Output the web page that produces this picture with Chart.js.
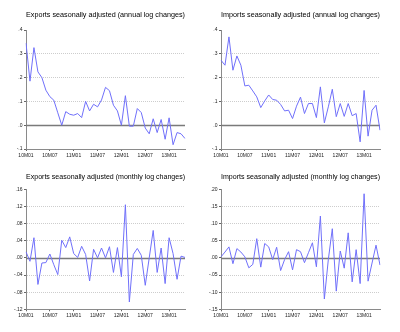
<!DOCTYPE html>
<html>
<head>
<meta charset="utf-8">
<script src="https://cdn.jsdelivr.net/npm/chart.js@4"></script>
<style>
  html, body { margin: 0; padding: 0; background: #fff; }
  #grid { position: relative; width: 400px; height: 332px; }
  .panel { position: absolute; width: 200px; height: 166px; }
  .panel canvas { display: block; }
</style>
</head>
<body>
<div id="grid">
  <div class="panel" style="left:0;top:0"><canvas id="expAnnual" width="200" height="166"></canvas></div>
  <div class="panel" style="left:200px;top:0"><canvas id="impAnnual" width="200" height="166"></canvas></div>
  <div class="panel" style="left:0;top:166px"><canvas id="expMonthly" width="200" height="166"></canvas></div>
  <div class="panel" style="left:200px;top:166px"><canvas id="impMonthly" width="200" height="166"></canvas></div>
</div>
<script>
// Monthly observations, 2010M01 .. 2013M05
const months = [];
for (let y = 10; y <= 13; y++) {
  for (let m = 1; m <= 12; m++) {
    if (y === 13 && m > 5) break;
    months.push(y + 'M' + String(m).padStart(2, '0'));
  }
}

const exportsAnnual = [0.345, 0.185, 0.326, 0.224, 0.200, 0.147, 0.120, 0.105, 0.052, 0.000,
  0.057, 0.046, 0.042, 0.049, 0.032, 0.100, 0.060, 0.088, 0.077, 0.106,
  0.159, 0.145, 0.084, 0.060, 0.000, 0.124, -0.004, -0.004, 0.070, 0.053,
  -0.012, -0.036, 0.027, -0.031, 0.024, -0.059, 0.031, -0.082, -0.031, -0.036, -0.056];

const importsAnnual = [0.273, 0.252, 0.371, 0.231, 0.291, 0.252, 0.165, 0.168, 0.144, 0.119,
  0.074, 0.102, 0.127, 0.108, 0.105, 0.087, 0.060, 0.063, 0.028, 0.080,
  0.118, 0.049, 0.091, 0.091, 0.032, 0.161, 0.010, 0.077, 0.151, 0.036,
  0.091, 0.037, 0.091, 0.040, 0.049, -0.070, 0.146, -0.046, 0.063, 0.084, -0.021];

const exportsMonthly = [0.014, -0.008, 0.047, -0.062, -0.012, -0.011, 0.009, -0.016, -0.039, 0.041,
  0.024, 0.049, 0.010, 0.001, 0.027, 0.008, -0.054, 0.020, 0.000, 0.023,
  0.000, 0.026, -0.034, 0.024, -0.044, 0.124, -0.103, 0.008, 0.022, 0.006,
  -0.064, 0.000, 0.064, -0.034, 0.023, -0.060, 0.047, 0.010, -0.050, 0.004, 0.001];

const importsMonthly = [0.003, 0.017, 0.032, -0.017, 0.027, 0.017, 0.003, -0.029, -0.019, 0.056,
  -0.027, 0.042, 0.032, -0.005, 0.031, -0.037, -0.005, 0.018, -0.035, 0.024,
  0.018, -0.014, 0.015, 0.044, -0.026, 0.122, -0.120, -0.005, 0.085, -0.097,
  0.020, -0.030, 0.073, -0.070, 0.024, -0.075, 0.187, -0.068, -0.015, 0.037, -0.021];

// y-axis ranges
const annualRange = { min: -0.1, max: 0.4, step: 0.1, digits: 1 };
const exportsMonthlyRange = { min: -0.12, max: 0.16, step: 0.04, digits: 2 };
const importsMonthlyRange = { min: -0.15, max: 0.20, step: 0.05, digits: 2 };

const FONT = "'Liberation Sans', Arial, sans-serif";
const LINE_COLOR = 'rgb(112,112,250)';
const TICK_FONT = { family: FONT, size: 5 };

// solid reference line at zero
const zeroLine = {
  id: 'zeroLine',
  beforeDatasetsDraw(chart) {
    const { ctx, chartArea, scales } = chart;
    const y = Math.round(scales.y.getPixelForValue(0)) + 0.5;
    ctx.save();
    ctx.strokeStyle = '#7a7a7a';
    ctx.lineWidth = 1.3;
    ctx.beginPath();
    ctx.moveTo(chartArea.left, y);
    ctx.lineTo(chartArea.right, y);
    ctx.stroke();
    ctx.restore();
  }
};

function stripZero(v, digits) {
  let s = Math.abs(v).toFixed(digits);
  if (s.startsWith('0')) s = s.slice(1);
  return (v < -1e-9 ? '-' : '') + s;
}

function makePanel(id, title, values, range, area, titleY) {
  const titleSize = 7.3;
  const lh = titleSize * 1.2;
  const padTop = titleY - lh / 2;
  const padBottom = area.top - padTop - lh;
  new Chart(document.getElementById(id), {
    type: 'line',
    data: {
      labels: months,
      datasets: [{
        data: values,
        borderColor: LINE_COLOR,
        borderWidth: 1,
        pointRadius: 0,
        tension: 0,
        fill: false
      }]
    },
    options: {
      responsive: false,
      animation: false,
      events: [],
      layout: { padding: { left: 0, top: 0, bottom: 0, right: 200 - area.right } },
      plugins: {
        legend: { display: false },
        tooltip: { enabled: false },
        title: {
          display: true,
          text: title,
          fullSize: false,
          color: '#000',
          font: { family: FONT, size: titleSize, weight: 'normal', lineHeight: 1.2 },
          padding: { top: padTop, bottom: padBottom }
        }
      },
      scales: {
        x: {
          type: 'category',
          offset: false,
          afterFit(scale) { scale.height = 166 - area.bottom; },
          grid: { drawOnChartArea: false, drawTicks: true, tickLength: 2, tickColor: '#666', tickWidth: 1 },
          border: { display: true, color: '#8a8a8a', width: 1 },
          ticks: {
            autoSkip: false, maxRotation: 0, minRotation: 0, padding: 1.2,
            color: '#222', font: TICK_FONT,
            callback: (v, i) => (i % 6 === 0 ? months[i] : null)
          }
        },
        y: {
          type: 'linear',
          min: range.min, max: range.max,
          afterFit(scale) { scale.width = area.left; },
          grid: {
            color: (c) => {
              const v = c.tick ? c.tick.value : 0;
              if (Math.abs(v - range.max) < 1e-9 || Math.abs(v - range.min) < 1e-9 || Math.abs(v) < 1e-9) return 'rgba(0,0,0,0)';
              return '#cdcdcd';
            },
            lineWidth: 1,
            tickLength: 2, tickColor: '#666', tickWidth: 1, tickBorderDash: []
          },
          border: { display: true, color: '#8a8a8a', width: 1, dash: [1, 1] },
          ticks: {
            stepSize: range.step, padding: 1.5,
            color: '#222', font: TICK_FONT,
            callback: (v) => stripZero(v, range.digits)
          }
        }
      }
    },
    plugins: [zeroLine]
  });
}

makePanel('expAnnual', 'Exports seasonally adjusted (annual log changes)', exportsAnnual, annualRange,
  { left: 26, right: 185, top: 30, bottom: 149 }, 15);
makePanel('impAnnual', 'Imports seasonally adjusted (annual log changes)', importsAnnual, annualRange,
  { left: 21, right: 180, top: 30, bottom: 149 }, 15);
makePanel('expMonthly', 'Exports seasonally adjusted (monthly log changes)', exportsMonthly, exportsMonthlyRange,
  { left: 26, right: 185, top: 23.3, bottom: 143.3 }, 11);
makePanel('impMonthly', 'Imports seasonally adjusted (monthly log changes)', importsMonthly, importsMonthlyRange,
  { left: 21, right: 180, top: 23.3, bottom: 143.3 }, 11);
</script>
</body>
</html>
